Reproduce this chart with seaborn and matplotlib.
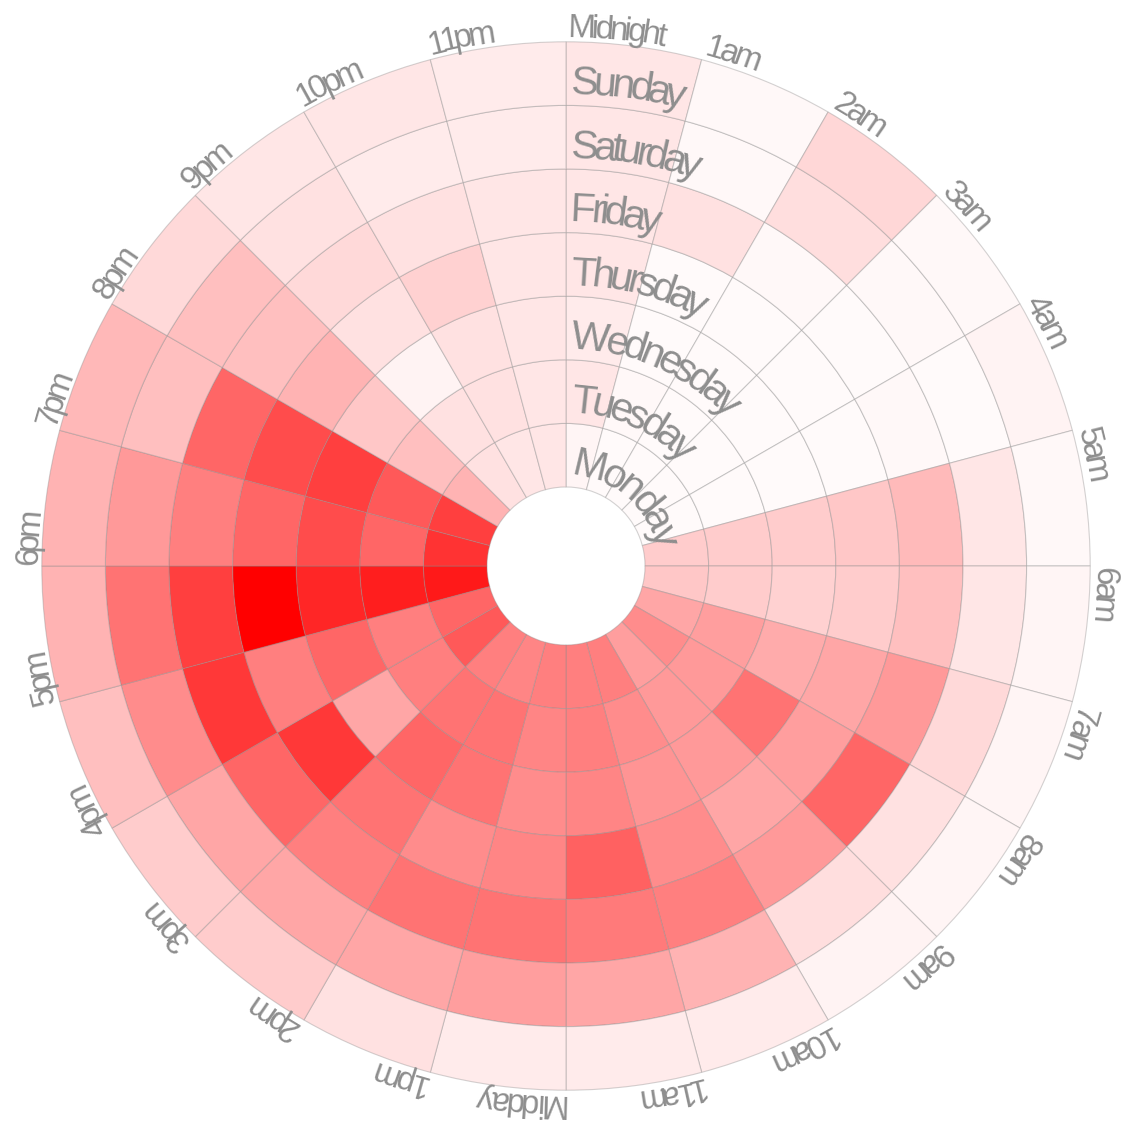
import numpy as np
import matplotlib
matplotlib.use("Agg")
import matplotlib.pyplot as plt
import seaborn as sns
from matplotlib.font_manager import FontProperties
from matplotlib.textpath import TextToPath

# Hour labels, clockwise from the top
hour_labels = ["Midnight", "1am", "2am", "3am", "4am", "5am", "6am", "7am",
               "8am", "9am", "10am", "11am", "Midday", "1pm", "2pm", "3pm",
               "4pm", "5pm", "6pm", "7pm", "8pm", "9pm", "10pm", "11pm"]

# Ring labels, from the centre outwards
day_labels = ["Monday", "Tuesday", "Wednesday", "Thursday", "Friday",
              "Saturday", "Sunday"]

# Relative activity per hour (0 = none, 1 = busiest hour of the week)
monday = [0.04, 0.02, 0.02, 0.02, 0.02, 0.20, 0.22, 0.35, 0.45, 0.38, 0.50, 0.50,
          0.50, 0.48, 0.50, 0.65, 0.60, 0.90, 0.80, 0.75, 0.30, 0.12, 0.10, 0.10]
tuesday = [0.10, 0.03, 0.02, 0.02, 0.02, 0.20, 0.20, 0.38, 0.40, 0.40, 0.45, 0.50,
           0.48, 0.55, 0.55, 0.50, 0.50, 0.88, 0.60, 0.65, 0.25, 0.12, 0.12, 0.10]
wednesday = [0.08, 0.02, 0.02, 0.02, 0.02, 0.20, 0.18, 0.33, 0.55, 0.40, 0.42, 0.48,
             0.45, 0.55, 0.60, 0.35, 0.60, 0.85, 0.70, 0.75, 0.22, 0.05, 0.12, 0.10]
thursday = [0.10, 0.02, 0.02, 0.02, 0.02, 0.22, 0.20, 0.35, 0.38, 0.35, 0.45, 0.62,
            0.48, 0.45, 0.55, 0.78, 0.50, 1.00, 0.60, 0.70, 0.30, 0.12, 0.18, 0.10]
friday = [0.10, 0.12, 0.03, 0.02, 0.03, 0.27, 0.25, 0.40, 0.60, 0.40, 0.50, 0.52,
          0.55, 0.55, 0.50, 0.60, 0.78, 0.75, 0.50, 0.60, 0.25, 0.15, 0.12, 0.10]
saturday = [0.10, 0.03, 0.13, 0.03, 0.02, 0.10, 0.10, 0.15, 0.12, 0.13, 0.30, 0.35,
            0.38, 0.35, 0.35, 0.35, 0.45, 0.55, 0.40, 0.25, 0.25, 0.12, 0.08, 0.08]
sunday = [0.10, 0.03, 0.16, 0.03, 0.05, 0.03, 0.04, 0.04, 0.04, 0.05, 0.08, 0.08,
          0.08, 0.12, 0.20, 0.20, 0.25, 0.30, 0.30, 0.28, 0.15, 0.10, 0.10, 0.08]

sns.set_theme(style="white")
plt.rcParams["font.family"] = ["Liberation Sans", "DejaVu Sans"]

W, H, DPI = 1124, 1128, 100
CX, CY = 566, 566          # centre of the wheel in pixels (from top-left)
R_AX = 558                 # axes radius in pixels; one data unit = one pixel
INNER = 79                 # radius of the empty hole
RING = 63.6                # thickness of one day ring
TEXT_COLOR = "#8e8e8e"

fig = plt.figure(figsize=(W / DPI, H / DPI), dpi=DPI)
fig.patch.set_facecolor("white")
ax = fig.add_axes([(CX - R_AX) / W, (H - CY - R_AX) / H, 2 * R_AX / W, 2 * R_AX / H],
                  projection="polar")
ax.set_theta_zero_location("N")
ax.set_theta_direction(-1)
ax.set_ylim(0, R_AX)
ax.set_axis_off()

cmap = sns.blend_palette(["#ffffff", "#ff0000"], as_cmap=True)
values = np.array([monday, tuesday, wednesday, thursday, friday, saturday, sunday])

step = 2 * np.pi / len(hour_labels)
theta = np.arange(len(hour_labels)) * step
for d in range(len(day_labels)):
    ax.bar(theta, RING, width=step, bottom=INNER + d * RING, align="edge",
           color=cmap(values[d]), edgecolor=(0.55, 0.55, 0.55, 0.38),
           linewidth=0.8, zorder=2)

ttp = TextToPath()


def arc_text(s, r, theta0, offset, size_px, spacing):
    """Write s along a clockwise arc of radius r starting at angle theta0."""
    prop = FontProperties(family="Liberation Sans", size=size_px)
    widths = [0.0]
    for k in range(1, len(s) + 1):
        widths.append(ttp.get_text_width_height_descent(s[:k], prop, ismath=False)[0])
    for k, ch in enumerate(s):
        cw = widths[k + 1] - widths[k]
        mid = offset + widths[k] + k * spacing + cw / 2
        th = theta0 + mid / r
        ax.text(th, r, ch, fontsize=size_px * 72 / DPI, family="Liberation Sans",
                color=TEXT_COLOR, ha="center", va="baseline",
                rotation=-np.degrees(th), rotation_mode="anchor", zorder=5)


for h, lab in enumerate(hour_labels):
    arc_text(lab, 529, h * step, 1, 33, -3.8)

for d, lab in enumerate(day_labels):
    arc_text(lab, INNER + d * RING + 11, 0.0, 4, 41, -5.0)

fig.savefig("out.png", dpi=DPI, facecolor="white")
